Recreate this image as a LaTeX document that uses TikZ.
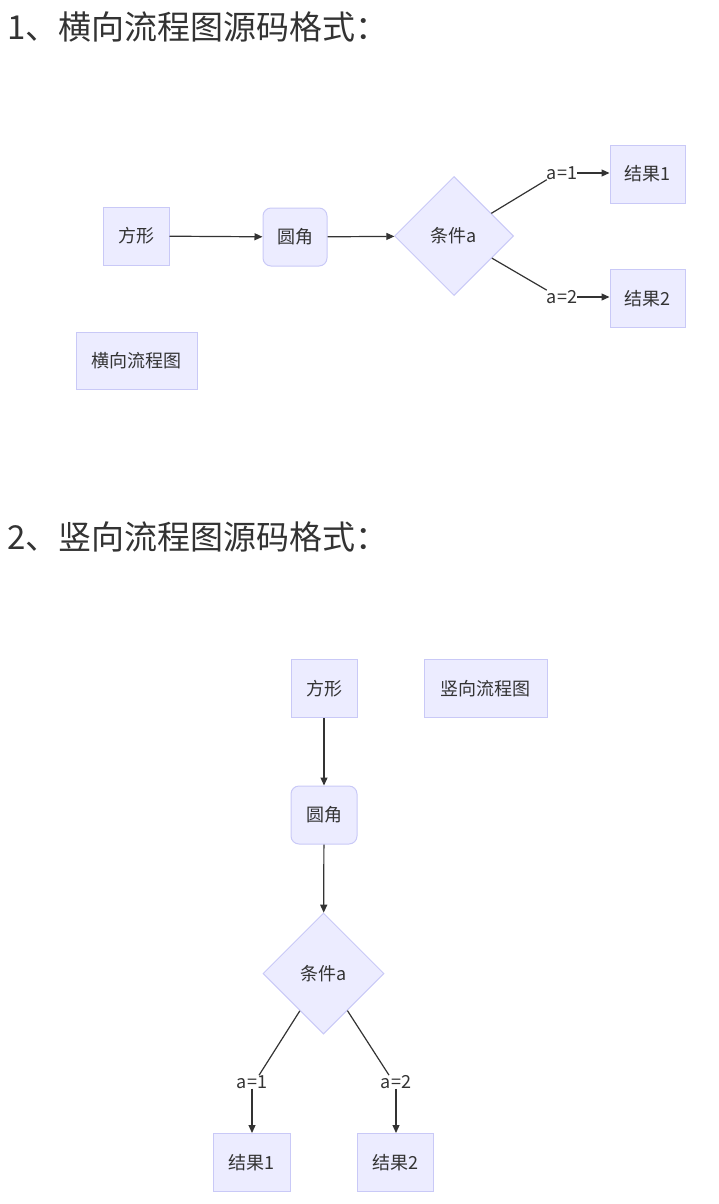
\documentclass[tikz,border=0pt]{standalone}
\usepackage{fontspec}
\setmainfont{Noto Sans CJK SC}
\usetikzlibrary{shapes.geometric,arrows.meta,calc}
\definecolor{nfill}{HTML}{ECECFF}
\definecolor{nstroke}{HTML}{C9C9F7}
\definecolor{txt}{HTML}{333333}
\begin{document}
\begin{tikzpicture}[x=1pt,y=-1pt,
  box/.style={draw=nstroke, fill=nfill, line width=1pt, font=\fontsize{18}{20}\selectfont, text=txt, inner sep=0pt, minimum height=58pt},
  rbox/.style={box, rounded corners=8pt},
  dia/.style={box, diamond, minimum width=119pt, minimum height=119pt},
  lbl/.style={font=\fontsize{18}{20}\selectfont, text=txt, inner sep=0pt, fill=white},
  edge/.style={draw=txt, line width=1.2pt},
  arr/.style={edge, -{Triangle[length=8pt,width=7pt]}},
  ttl/.style={font=\fontsize{33}{38}\selectfont, text=txt, inner sep=0pt, anchor=west}]
\useasboundingbox (0,0) rectangle (719,1204);
% ---- part 1
\node[ttl] (t1) at (7,27) {1、横向流程图源码格式：};
\node[box, minimum width=66pt] (a1) at (136,236) {方形};
\node[rbox, minimum width=64pt] (b1) at (295,237) {圆角};
\node[dia] (c1) at (454,236) {条件a};
\node[box, minimum width=75pt] (r1) at (647.5,174) {结果1};
\node[box, minimum width=75pt] (r2) at (647.5,298.5) {结果2};
\node[box, minimum width=121pt, minimum height=57pt] (h1) at (136.5,360.5) {横向流程图};
\node[lbl] (l1) at (562,173) {a=1};
\node[lbl] (l2) at (562,297) {a=2};
\draw[arr] (a1) -- (b1);
\draw[arr] (b1) -- (c1);
\draw[edge] (c1) -- (l1.south west);
\draw[arr] (l1.east) -- (l1.east -| r1.west);
\draw[edge] (c1) -- (l2.north west);
\draw[arr] (l2.east) -- (l2.east -| r2.west);
% ---- part 2
\node[ttl] (t2) at (7,537) {2、竖向流程图源码格式：};
\node[box, minimum width=66pt] (a2) at (324,688.5) {方形};
\node[box, minimum width=123pt] (v2) at (485.5,688.5) {竖向流程图};
\node[rbox, minimum width=66pt] (b2) at (324,815) {圆角};
\node[dia, minimum width=121pt, minimum height=121pt] (c2) at (323.5,973.5) {条件a};
\node[box, minimum width=77pt] (r3) at (251.5,1162.5) {结果1};
\node[box, minimum width=76pt] (r4) at (395,1162.5) {结果2};
\node[lbl] (l3) at (252,1082) {a=1};
\node[lbl] (l4) at (396,1082) {a=2};
\draw[arr] (a2) -- (b2);
\draw[arr] (b2) -- (c2);
\draw[edge] (c2) -- ([xshift=7pt]l3.north);
\draw[edge] (c2) -- ([xshift=-7pt]l4.north);
\draw[arr] (l3.south) -- (l3.south |- r3.north);
\draw[arr] (l4.south) -- (l4.south |- r4.north);
\end{tikzpicture}
\end{document}
